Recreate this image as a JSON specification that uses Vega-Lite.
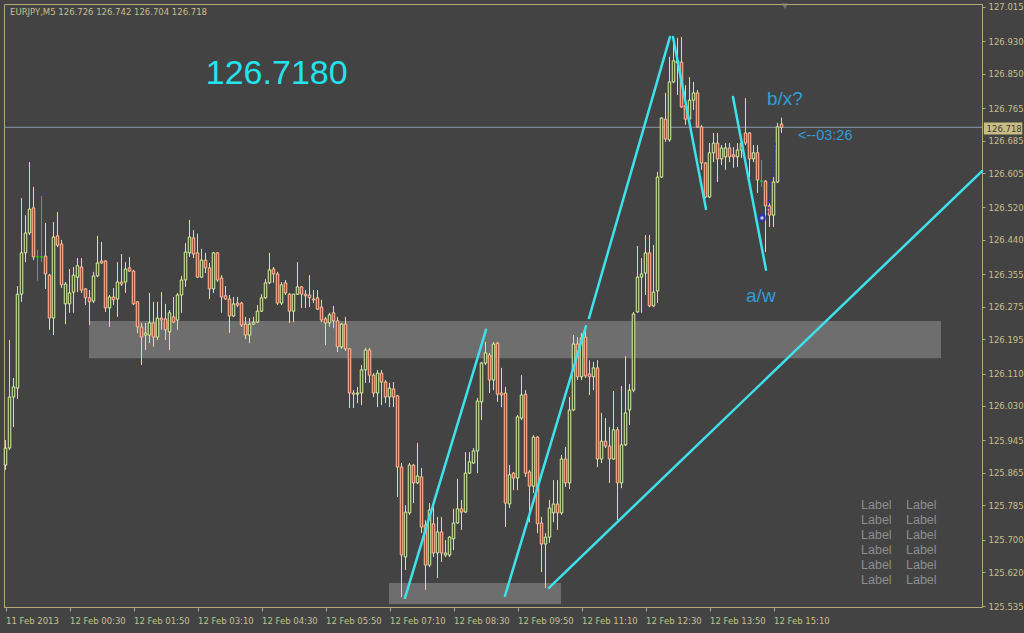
{
"$schema":"https://vega.github.io/schema/vega-lite/v6.json",
"width":978,"height":603,
"autosize":{"type":"none"},
"padding":{"left":4,"top":4,"right":42,"bottom":26},
"background":"#434343",
"view":{"fill":"#434343","stroke":"#b8a878","strokeWidth":1},
"config":{"scale":{"continuousPadding":0},"axis":{"labelOverlap":false,"labelFlush":false,"labelBound":false}},
"datasets":{
"candles":[
{"t":"2013-02-11T23:10:00Z","o":125.884,"h":125.946,"l":125.872,"c":125.926},
{"t":"2013-02-11T23:15:00Z","o":125.926,"h":126.193,"l":125.921,"c":126.052},
{"t":"2013-02-11T23:20:00Z","o":126.052,"h":126.099,"l":125.978,"c":126.077},
{"t":"2013-02-11T23:25:00Z","o":126.074,"h":126.326,"l":126.047,"c":126.306},
{"t":"2013-02-11T23:30:00Z","o":126.306,"h":126.543,"l":126.287,"c":126.408},
{"t":"2013-02-11T23:35:00Z","o":126.408,"h":126.501,"l":126.385,"c":126.457},
{"t":"2013-02-11T23:40:00Z","o":126.457,"h":126.632,"l":126.452,"c":126.516},
{"t":"2013-02-11T23:45:00Z","o":126.519,"h":126.571,"l":126.390,"c":126.398},
{"t":"2013-02-11T23:50:00Z","o":126.398,"h":126.415,"l":126.339,"c":126.398},
{"t":"2013-02-11T23:55:00Z","o":126.398,"h":126.548,"l":126.385,"c":126.398},
{"t":"2013-02-12T00:00:00Z","o":126.400,"h":126.482,"l":126.319,"c":126.356},
{"t":"2013-02-12T00:05:00Z","o":126.353,"h":126.356,"l":126.218,"c":126.247},
{"t":"2013-02-12T00:10:00Z","o":126.247,"h":126.484,"l":126.205,"c":126.447},
{"t":"2013-02-12T00:15:00Z","o":126.450,"h":126.509,"l":126.422,"c":126.427},
{"t":"2013-02-12T00:20:00Z","o":126.430,"h":126.440,"l":126.321,"c":126.329},
{"t":"2013-02-12T00:25:00Z","o":126.282,"h":126.336,"l":126.232,"c":126.331},
{"t":"2013-02-12T00:30:00Z","o":126.282,"h":126.368,"l":126.260,"c":126.309},
{"t":"2013-02-12T00:35:00Z","o":126.311,"h":126.373,"l":126.260,"c":126.353},
{"t":"2013-02-12T00:40:00Z","o":126.348,"h":126.395,"l":126.311,"c":126.376},
{"t":"2013-02-12T00:45:00Z","o":126.373,"h":126.395,"l":126.309,"c":126.316},
{"t":"2013-02-12T00:50:00Z","o":126.319,"h":126.321,"l":126.279,"c":126.297},
{"t":"2013-02-12T00:55:00Z","o":126.297,"h":126.316,"l":126.230,"c":126.287},
{"t":"2013-02-12T01:00:00Z","o":126.289,"h":126.361,"l":126.284,"c":126.351},
{"t":"2013-02-12T01:05:00Z","o":126.351,"h":126.450,"l":126.348,"c":126.383},
{"t":"2013-02-12T01:10:00Z","o":126.388,"h":126.435,"l":126.381,"c":126.383},
{"t":"2013-02-12T01:15:00Z","o":126.388,"h":126.390,"l":126.262,"c":126.272},
{"t":"2013-02-12T01:20:00Z","o":126.272,"h":126.304,"l":126.225,"c":126.299},
{"t":"2013-02-12T01:25:00Z","o":126.299,"h":126.321,"l":126.279,"c":126.292},
{"t":"2013-02-12T01:30:00Z","o":126.294,"h":126.385,"l":126.250,"c":126.336},
{"t":"2013-02-12T01:35:00Z","o":126.336,"h":126.405,"l":126.326,"c":126.331},
{"t":"2013-02-12T01:40:00Z","o":126.336,"h":126.385,"l":126.309,"c":126.368},
{"t":"2013-02-12T01:45:00Z","o":126.371,"h":126.398,"l":126.361,"c":126.363},
{"t":"2013-02-12T01:50:00Z","o":126.363,"h":126.366,"l":126.279,"c":126.282},
{"t":"2013-02-12T01:55:00Z","o":126.287,"h":126.289,"l":126.210,"c":126.225},
{"t":"2013-02-12T02:00:00Z","o":126.225,"h":126.235,"l":126.131,"c":126.200},
{"t":"2013-02-12T02:05:00Z","o":126.205,"h":126.235,"l":126.168,"c":126.210},
{"t":"2013-02-12T02:10:00Z","o":126.205,"h":126.309,"l":126.185,"c":126.235},
{"t":"2013-02-12T02:15:00Z","o":126.235,"h":126.287,"l":126.176,"c":126.200},
{"t":"2013-02-12T02:20:00Z","o":126.200,"h":126.287,"l":126.193,"c":126.247},
{"t":"2013-02-12T02:25:00Z","o":126.247,"h":126.311,"l":126.218,"c":126.242},
{"t":"2013-02-12T02:30:00Z","o":126.245,"h":126.282,"l":126.193,"c":126.218},
{"t":"2013-02-12T02:35:00Z","o":126.213,"h":126.267,"l":126.168,"c":126.260},
{"t":"2013-02-12T02:40:00Z","o":126.250,"h":126.299,"l":126.235,"c":126.237},
{"t":"2013-02-12T02:45:00Z","o":126.242,"h":126.309,"l":126.218,"c":126.304},
{"t":"2013-02-12T02:50:00Z","o":126.304,"h":126.351,"l":126.260,"c":126.341},
{"t":"2013-02-12T02:55:00Z","o":126.341,"h":126.432,"l":126.324,"c":126.410},
{"t":"2013-02-12T03:00:00Z","o":126.408,"h":126.489,"l":126.398,"c":126.447},
{"t":"2013-02-12T03:05:00Z","o":126.445,"h":126.464,"l":126.395,"c":126.405},
{"t":"2013-02-12T03:10:00Z","o":126.408,"h":126.455,"l":126.346,"c":126.348},
{"t":"2013-02-12T03:15:00Z","o":126.348,"h":126.418,"l":126.346,"c":126.390},
{"t":"2013-02-12T03:20:00Z","o":126.390,"h":126.408,"l":126.358,"c":126.371},
{"t":"2013-02-12T03:25:00Z","o":126.371,"h":126.383,"l":126.294,"c":126.319},
{"t":"2013-02-12T03:30:00Z","o":126.319,"h":126.410,"l":126.309,"c":126.408},
{"t":"2013-02-12T03:35:00Z","o":126.408,"h":126.410,"l":126.336,"c":126.341},
{"t":"2013-02-12T03:40:00Z","o":126.346,"h":126.353,"l":126.260,"c":126.299},
{"t":"2013-02-12T03:45:00Z","o":126.302,"h":126.326,"l":126.292,"c":126.294},
{"t":"2013-02-12T03:50:00Z","o":126.294,"h":126.304,"l":126.210,"c":126.252},
{"t":"2013-02-12T03:55:00Z","o":126.252,"h":126.299,"l":126.250,"c":126.282},
{"t":"2013-02-12T04:00:00Z","o":126.284,"h":126.299,"l":126.274,"c":126.279},
{"t":"2013-02-12T04:05:00Z","o":126.284,"h":126.287,"l":126.225,"c":126.230},
{"t":"2013-02-12T04:10:00Z","o":126.232,"h":126.250,"l":126.195,"c":126.205},
{"t":"2013-02-12T04:15:00Z","o":126.205,"h":126.247,"l":126.185,"c":126.232},
{"t":"2013-02-12T04:20:00Z","o":126.232,"h":126.250,"l":126.230,"c":126.237},
{"t":"2013-02-12T04:25:00Z","o":126.237,"h":126.279,"l":126.235,"c":126.264},
{"t":"2013-02-12T04:30:00Z","o":126.264,"h":126.306,"l":126.262,"c":126.297},
{"t":"2013-02-12T04:35:00Z","o":126.297,"h":126.343,"l":126.294,"c":126.334},
{"t":"2013-02-12T04:40:00Z","o":126.334,"h":126.408,"l":126.331,"c":126.366},
{"t":"2013-02-12T04:45:00Z","o":126.368,"h":126.373,"l":126.334,"c":126.356},
{"t":"2013-02-12T04:50:00Z","o":126.356,"h":126.361,"l":126.279,"c":126.284},
{"t":"2013-02-12T04:55:00Z","o":126.284,"h":126.336,"l":126.279,"c":126.329},
{"t":"2013-02-12T05:00:00Z","o":126.334,"h":126.341,"l":126.304,"c":126.309},
{"t":"2013-02-12T05:05:00Z","o":126.306,"h":126.309,"l":126.235,"c":126.264},
{"t":"2013-02-12T05:10:00Z","o":126.264,"h":126.306,"l":126.237,"c":126.306},
{"t":"2013-02-12T05:15:00Z","o":126.306,"h":126.385,"l":126.304,"c":126.324},
{"t":"2013-02-12T05:20:00Z","o":126.324,"h":126.326,"l":126.272,"c":126.306},
{"t":"2013-02-12T05:25:00Z","o":126.306,"h":126.316,"l":126.272,"c":126.302},
{"t":"2013-02-12T05:30:00Z","o":126.304,"h":126.353,"l":126.274,"c":126.297},
{"t":"2013-02-12T05:35:00Z","o":126.294,"h":126.316,"l":126.284,"c":126.292},
{"t":"2013-02-12T05:40:00Z","o":126.297,"h":126.316,"l":126.267,"c":126.269},
{"t":"2013-02-12T05:45:00Z","o":126.274,"h":126.292,"l":126.237,"c":126.242},
{"t":"2013-02-12T05:50:00Z","o":126.245,"h":126.250,"l":126.180,"c":126.235},
{"t":"2013-02-12T05:55:00Z","o":126.235,"h":126.260,"l":126.225,"c":126.255},
{"t":"2013-02-12T06:00:00Z","o":126.260,"h":126.277,"l":126.222,"c":126.240},
{"t":"2013-02-12T06:05:00Z","o":126.240,"h":126.250,"l":126.163,"c":126.176},
{"t":"2013-02-12T06:10:00Z","o":126.176,"h":126.235,"l":126.171,"c":126.232},
{"t":"2013-02-12T06:15:00Z","o":126.232,"h":126.250,"l":126.166,"c":126.171},
{"t":"2013-02-12T06:20:00Z","o":126.171,"h":126.173,"l":126.025,"c":126.062},
{"t":"2013-02-12T06:25:00Z","o":126.062,"h":126.069,"l":126.025,"c":126.059},
{"t":"2013-02-12T06:30:00Z","o":126.059,"h":126.077,"l":126.037,"c":126.062},
{"t":"2013-02-12T06:35:00Z","o":126.062,"h":126.131,"l":126.032,"c":126.119},
{"t":"2013-02-12T06:40:00Z","o":126.119,"h":126.173,"l":126.087,"c":126.168},
{"t":"2013-02-12T06:45:00Z","o":126.168,"h":126.173,"l":126.087,"c":126.106},
{"t":"2013-02-12T06:50:00Z","o":126.106,"h":126.111,"l":126.052,"c":126.062},
{"t":"2013-02-12T06:55:00Z","o":126.062,"h":126.119,"l":126.027,"c":126.111},
{"t":"2013-02-12T07:00:00Z","o":126.111,"h":126.119,"l":126.032,"c":126.089},
{"t":"2013-02-12T07:05:00Z","o":126.089,"h":126.094,"l":126.037,"c":126.052},
{"t":"2013-02-12T07:10:00Z","o":126.052,"h":126.087,"l":126.027,"c":126.074},
{"t":"2013-02-12T07:15:00Z","o":126.072,"h":126.089,"l":126.027,"c":126.052},
{"t":"2013-02-12T07:20:00Z","o":126.055,"h":126.057,"l":125.805,"c":125.879},
{"t":"2013-02-12T07:25:00Z","o":125.879,"h":125.889,"l":125.558,"c":125.662},
{"t":"2013-02-12T07:30:00Z","o":125.657,"h":125.785,"l":125.625,"c":125.768},
{"t":"2013-02-12T07:35:00Z","o":125.766,"h":125.889,"l":125.761,"c":125.884},
{"t":"2013-02-12T07:40:00Z","o":125.884,"h":125.887,"l":125.790,"c":125.840},
{"t":"2013-02-12T07:45:00Z","o":125.840,"h":125.939,"l":125.837,"c":125.857},
{"t":"2013-02-12T07:50:00Z","o":125.855,"h":125.877,"l":125.716,"c":125.731},
{"t":"2013-02-12T07:55:00Z","o":125.736,"h":125.748,"l":125.576,"c":125.637},
{"t":"2013-02-12T08:00:00Z","o":125.637,"h":125.790,"l":125.632,"c":125.773},
{"t":"2013-02-12T08:05:00Z","o":125.739,"h":125.790,"l":125.657,"c":125.667},
{"t":"2013-02-12T08:10:00Z","o":125.667,"h":125.756,"l":125.605,"c":125.719},
{"t":"2013-02-12T08:15:00Z","o":125.719,"h":125.756,"l":125.645,"c":125.667},
{"t":"2013-02-12T08:20:00Z","o":125.662,"h":125.699,"l":125.657,"c":125.667},
{"t":"2013-02-12T08:25:00Z","o":125.662,"h":125.709,"l":125.657,"c":125.706},
{"t":"2013-02-12T08:30:00Z","o":125.702,"h":125.776,"l":125.674,"c":125.741},
{"t":"2013-02-12T08:35:00Z","o":125.741,"h":125.850,"l":125.739,"c":125.776},
{"t":"2013-02-12T08:40:00Z","o":125.776,"h":125.798,"l":125.724,"c":125.768},
{"t":"2013-02-12T08:45:00Z","o":125.768,"h":125.916,"l":125.766,"c":125.864},
{"t":"2013-02-12T08:50:00Z","o":125.864,"h":125.916,"l":125.862,"c":125.892},
{"t":"2013-02-12T08:55:00Z","o":125.889,"h":125.926,"l":125.887,"c":125.919},
{"t":"2013-02-12T09:00:00Z","o":125.919,"h":126.050,"l":125.864,"c":126.042},
{"t":"2013-02-12T09:05:00Z","o":126.040,"h":126.139,"l":125.995,"c":126.136},
{"t":"2013-02-12T09:10:00Z","o":126.136,"h":126.188,"l":126.131,"c":126.161},
{"t":"2013-02-12T09:15:00Z","o":126.156,"h":126.161,"l":126.062,"c":126.094},
{"t":"2013-02-12T09:20:00Z","o":126.094,"h":126.188,"l":126.069,"c":126.183},
{"t":"2013-02-12T09:25:00Z","o":126.185,"h":126.188,"l":126.040,"c":126.059},
{"t":"2013-02-12T09:30:00Z","o":126.062,"h":126.124,"l":126.027,"c":126.057},
{"t":"2013-02-12T09:35:00Z","o":126.062,"h":126.077,"l":125.731,"c":125.790},
{"t":"2013-02-12T09:40:00Z","o":125.788,"h":125.884,"l":125.778,"c":125.860},
{"t":"2013-02-12T09:45:00Z","o":125.864,"h":125.867,"l":125.822,"c":125.852},
{"t":"2013-02-12T09:50:00Z","o":125.852,"h":126.008,"l":125.822,"c":126.003},
{"t":"2013-02-12T09:55:00Z","o":126.000,"h":126.106,"l":125.995,"c":126.057},
{"t":"2013-02-12T10:00:00Z","o":126.059,"h":126.069,"l":125.855,"c":125.864},
{"t":"2013-02-12T10:05:00Z","o":125.867,"h":125.872,"l":125.743,"c":125.832},
{"t":"2013-02-12T10:10:00Z","o":125.832,"h":125.958,"l":125.815,"c":125.953},
{"t":"2013-02-12T10:15:00Z","o":125.953,"h":125.956,"l":125.716,"c":125.739},
{"t":"2013-02-12T10:20:00Z","o":125.741,"h":125.756,"l":125.620,"c":125.689},
{"t":"2013-02-12T10:25:00Z","o":125.689,"h":125.716,"l":125.581,"c":125.706},
{"t":"2013-02-12T10:30:00Z","o":125.706,"h":125.798,"l":125.692,"c":125.778},
{"t":"2013-02-12T10:35:00Z","o":125.766,"h":125.847,"l":125.743,"c":125.788},
{"t":"2013-02-12T10:40:00Z","o":125.788,"h":125.847,"l":125.724,"c":125.766},
{"t":"2013-02-12T10:45:00Z","o":125.766,"h":125.909,"l":125.761,"c":125.899},
{"t":"2013-02-12T10:50:00Z","o":125.899,"h":125.929,"l":125.830,"c":125.840},
{"t":"2013-02-12T10:55:00Z","o":125.840,"h":126.052,"l":125.825,"c":126.020},
{"t":"2013-02-12T11:00:00Z","o":126.020,"h":126.205,"l":126.017,"c":126.183},
{"t":"2013-02-12T11:05:00Z","o":126.183,"h":126.200,"l":126.094,"c":126.102},
{"t":"2013-02-12T11:10:00Z","o":126.102,"h":126.210,"l":126.094,"c":126.198},
{"t":"2013-02-12T11:15:00Z","o":126.200,"h":126.230,"l":126.099,"c":126.104},
{"t":"2013-02-12T11:20:00Z","o":126.109,"h":126.143,"l":126.057,"c":126.102},
{"t":"2013-02-12T11:25:00Z","o":126.102,"h":126.139,"l":126.069,"c":126.124},
{"t":"2013-02-12T11:30:00Z","o":126.124,"h":126.143,"l":125.879,"c":125.899},
{"t":"2013-02-12T11:35:00Z","o":125.899,"h":126.013,"l":125.889,"c":125.943},
{"t":"2013-02-12T11:40:00Z","o":125.943,"h":126.000,"l":125.926,"c":125.931},
{"t":"2013-02-12T11:45:00Z","o":125.931,"h":125.978,"l":125.840,"c":125.899},
{"t":"2013-02-12T11:50:00Z","o":125.899,"h":126.067,"l":125.897,"c":125.971},
{"t":"2013-02-12T11:55:00Z","o":125.971,"h":125.978,"l":125.748,"c":125.840},
{"t":"2013-02-12T12:00:00Z","o":125.840,"h":126.079,"l":125.827,"c":125.934},
{"t":"2013-02-12T12:05:00Z","o":125.934,"h":126.153,"l":125.931,"c":126.013},
{"t":"2013-02-12T12:10:00Z","o":126.020,"h":126.084,"l":125.983,"c":126.069},
{"t":"2013-02-12T12:15:00Z","o":126.069,"h":126.262,"l":126.064,"c":126.257},
{"t":"2013-02-12T12:20:00Z","o":126.262,"h":126.425,"l":126.260,"c":126.348},
{"t":"2013-02-12T12:25:00Z","o":126.348,"h":126.395,"l":126.260,"c":126.356},
{"t":"2013-02-12T12:30:00Z","o":126.358,"h":126.452,"l":126.304,"c":126.408},
{"t":"2013-02-12T12:35:00Z","o":126.408,"h":126.452,"l":126.274,"c":126.277},
{"t":"2013-02-12T12:40:00Z","o":126.277,"h":126.427,"l":126.274,"c":126.311},
{"t":"2013-02-12T12:45:00Z","o":126.314,"h":126.608,"l":126.284,"c":126.595},
{"t":"2013-02-12T12:50:00Z","o":126.595,"h":126.743,"l":126.593,"c":126.741},
{"t":"2013-02-12T12:55:00Z","o":126.738,"h":126.803,"l":126.682,"c":126.689},
{"t":"2013-02-12T13:00:00Z","o":126.687,"h":126.892,"l":126.682,"c":126.830},
{"t":"2013-02-12T13:05:00Z","o":126.830,"h":126.926,"l":126.827,"c":126.882},
{"t":"2013-02-12T13:10:00Z","o":126.877,"h":126.939,"l":126.798,"c":126.882},
{"t":"2013-02-12T13:15:00Z","o":126.879,"h":126.941,"l":126.766,"c":126.768},
{"t":"2013-02-12T13:20:00Z","o":126.771,"h":126.822,"l":126.724,"c":126.738},
{"t":"2013-02-12T13:25:00Z","o":126.738,"h":126.842,"l":126.729,"c":126.785},
{"t":"2013-02-12T13:30:00Z","o":126.785,"h":126.830,"l":126.761,"c":126.803},
{"t":"2013-02-12T13:35:00Z","o":126.803,"h":126.810,"l":126.716,"c":126.719},
{"t":"2013-02-12T13:40:00Z","o":126.719,"h":126.724,"l":126.613,"c":126.630},
{"t":"2013-02-12T13:45:00Z","o":126.630,"h":126.632,"l":126.543,"c":126.546},
{"t":"2013-02-12T13:50:00Z","o":126.546,"h":126.679,"l":126.543,"c":126.655},
{"t":"2013-02-12T13:55:00Z","o":126.655,"h":126.704,"l":126.632,"c":126.679},
{"t":"2013-02-12T14:00:00Z","o":126.679,"h":126.704,"l":126.583,"c":126.640},
{"t":"2013-02-12T14:05:00Z","o":126.640,"h":126.674,"l":126.625,"c":126.667},
{"t":"2013-02-12T14:10:00Z","o":126.645,"h":126.679,"l":126.613,"c":126.667},
{"t":"2013-02-12T14:15:00Z","o":126.667,"h":126.679,"l":126.632,"c":126.645},
{"t":"2013-02-12T14:20:00Z","o":126.650,"h":126.669,"l":126.618,"c":126.645},
{"t":"2013-02-12T14:25:00Z","o":126.645,"h":126.679,"l":126.620,"c":126.662},
{"t":"2013-02-12T14:30:00Z","o":126.662,"h":126.692,"l":126.642,"c":126.679},
{"t":"2013-02-12T14:35:00Z","o":126.704,"h":126.790,"l":126.674,"c":126.679},
{"t":"2013-02-12T14:40:00Z","o":126.704,"h":126.706,"l":126.595,"c":126.640},
{"t":"2013-02-12T14:45:00Z","o":126.640,"h":126.674,"l":126.632,"c":126.655},
{"t":"2013-02-12T14:50:00Z","o":126.655,"h":126.674,"l":126.556,"c":126.588},
{"t":"2013-02-12T14:55:00Z","o":126.585,"h":126.637,"l":126.571,"c":126.585},
{"t":"2013-02-12T15:00:00Z","o":126.585,"h":126.588,"l":126.410,"c":126.524},
{"t":"2013-02-12T15:05:00Z","o":126.524,"h":126.531,"l":126.472,"c":126.501},
{"t":"2013-02-12T15:10:00Z","o":126.501,"h":126.595,"l":126.472,"c":126.583},
{"t":"2013-02-12T15:15:00Z","o":126.583,"h":126.729,"l":126.580,"c":126.719},
{"t":"2013-02-12T15:20:00Z","o":126.726,"h":126.742,"l":126.704,"c":126.718}
],
"zones":[
{"t1":"2013-02-12T00:54:22Z","t2":"2013-02-12T18:39:22Z","p1":126.148,"p2":126.240},
{"t1":"2013-02-12T07:09:22Z","t2":"2013-02-12T10:44:22Z","p1":125.541,"p2":125.593}
],
"trend":[
{"t1":"2013-02-12T07:29:22Z","p1":125.556,"t2":"2013-02-12T09:10:38Z","p2":126.218},
{"t1":"2013-02-12T09:34:22Z","p1":125.561,"t2":"2013-02-12T11:15:38Z","p2":126.227},
{"t1":"2013-02-12T10:29:22Z","p1":125.581,"t2":"2013-02-12T19:30:38Z","p2":126.610},
{"t1":"2013-02-12T11:19:22Z","p1":126.247,"t2":"2013-02-12T13:00:38Z","p2":126.941},
{"t1":"2013-02-12T13:04:22Z","p1":126.941,"t2":"2013-02-12T13:45:38Z","p2":126.516},
{"t1":"2013-02-12T14:19:22Z","p1":126.793,"t2":"2013-02-12T15:00:38Z","p2":126.366}
]
},
"layer":[
{"data":{"name":"zones"},"mark":{"type":"rect","color":"#6e6e6e"},
 "encoding":{"x":{"field":"t1","type":"temporal","title":null},"x2":{"field":"t2"},"y":{"field":"p1","type":"quantitative","title":null},"y2":{"field":"p2"}}},
{"data":{"values":[{"p":126.718}]},"mark":{"type":"rule","color":"#8a98ae","strokeWidth":1},
 "encoding":{"y":{"field":"p","type":"quantitative","title":null}}},
{"data":{"name":"candles"},"mark":{"type":"rule","strokeWidth":1},
 "encoding":{
  "x":{"field":"t","type":"temporal","title":null,
   "scale":{"type":"utc","padding":0,"domain":[{"year":2013,"month":2,"date":11,"hours":23,"minutes":8,"seconds":7,"milliseconds":500,"utc":true},{"year":2013,"month":2,"date":12,"hours":19,"minutes":30,"seconds":37,"milliseconds":500,"utc":true}]},
   "axis":{"orient":"bottom","grid":false,"tickCount":40,
    "values":[{"year":2013,"month":2,"date":11,"hours":23,"minutes":10,"utc":true},{"year":2013,"month":2,"date":12,"hours":0,"minutes":30,"utc":true},{"year":2013,"month":2,"date":12,"hours":1,"minutes":50,"utc":true},{"year":2013,"month":2,"date":12,"hours":3,"minutes":10,"utc":true},{"year":2013,"month":2,"date":12,"hours":4,"minutes":30,"utc":true},{"year":2013,"month":2,"date":12,"hours":5,"minutes":50,"utc":true},{"year":2013,"month":2,"date":12,"hours":7,"minutes":10,"utc":true},{"year":2013,"month":2,"date":12,"hours":8,"minutes":30,"utc":true},{"year":2013,"month":2,"date":12,"hours":9,"minutes":50,"utc":true},{"year":2013,"month":2,"date":12,"hours":11,"minutes":10,"utc":true},{"year":2013,"month":2,"date":12,"hours":12,"minutes":30,"utc":true},{"year":2013,"month":2,"date":12,"hours":13,"minutes":50,"utc":true},{"year":2013,"month":2,"date":12,"hours":15,"minutes":10,"utc":true}],
    "labelExpr":"utcFormat(datum.value, '%H:%M') == '23:10' ? '11 Feb 2013' : utcFormat(datum.value, '%d %b %H:%M')",
    "labelAlign":"left","labelBaseline":"top","labelPadding":5,"labelFlush":false,"labelOverlap":false,"labelBound":false,
    "labelColor":"#c9bf8e","labelFont":"DejaVu Sans","labelFontSize":8.5,
    "tickColor":"#b8a878","tickSize":4,"domainColor":"#b8a878"}},
  "y":{"field":"l","type":"quantitative","title":null,
   "scale":{"domain":[125.5336,127.0224],"nice":false,"zero":false,"padding":0},
   "axis":{"orient":"right","grid":false,"format":".3f","tickCount":60,
    "values":[125.535,125.62,125.7,125.785,125.865,125.945,126.03,126.11,126.195,126.275,126.355,126.44,126.52,126.605,126.685,126.765,126.85,126.93,127.015],
    "labelColor":"#c9bf8e","labelFont":"DejaVu Sans","labelFontSize":8.5,"labelPadding":3,"labelFlush":false,"labelOverlap":false,"labelBound":false,
    "tickColor":"#b8a878","tickSize":3,"domainColor":"#b8a878"}},
  "y2":{"field":"h"},
  "color":{"condition":{"test":"datum.o == datum.c","value":"#1ed01e"},"value":"#f2d3a6"}}},
{"data":{"name":"candles"},"mark":{"type":"bar","size":2.5,"strokeWidth":1},
 "encoding":{
  "x":{"field":"t","type":"temporal","title":null},
  "y":{"field":"o","type":"quantitative","title":null},
  "y2":{"field":"c"},
  "fill":{"condition":{"test":"datum.c < datum.o","value":"#f0241a"},"value":"#434343"},
  "stroke":{"condition":[{"test":"datum.o == datum.c","value":"#1ed01e"},{"test":"datum.c < datum.o","value":"#f6c6a4"}],"value":"#d9f4a4"}}},
{"data":{"name":"trend"},"mark":{"type":"rule","color":"#3ee2ec","strokeWidth":2.5,"strokeCap":"round"},
 "encoding":{"x":{"field":"t1","type":"temporal","title":null},"x2":{"field":"t2"},"y":{"field":"p1","type":"quantitative","title":null},"y2":{"field":"p2"}}},
{"data":{"values":[{"t1":"2013-02-12T15:01:52Z","p1":126.497,"t2":"2013-02-12T15:11:52Z","p2":126.679}]},
 "mark":{"type":"rule","color":"#2430c8","strokeWidth":1.5,"strokeDash":[2,2]},
 "encoding":{"x":{"field":"t1","type":"temporal","title":null},"x2":{"field":"t2"},"y":{"field":"p1","type":"quantitative","title":null},"y2":{"field":"p2"}}},
{"data":{"values":[{"t":"2013-02-12T14:55:38Z","p":126.494}]},
 "mark":{"type":"point","shape":"circle","size":36,"filled":true,"fill":"#ffffff","stroke":"#2430d8","strokeWidth":2.5},
 "encoding":{"x":{"field":"t","type":"temporal","title":null},"y":{"field":"p","type":"quantitative","title":null}}},
{"data":{"values":[{"t":"2013-02-12T15:24:22Z","p":127.017}]},
 "mark":{"type":"point","shape":"triangle-down","size":40,"filled":true,"color":"#8c8c8c"},
 "encoding":{"x":{"field":"t","type":"temporal","title":null},"y":{"field":"p","type":"quantitative","title":null}}},
{"data":{"values":[{"t":"2013-02-12T04:49:00Z","p":126.850,"label":"126.7180"}]},
 "mark":{"type":"text","font":"Liberation Sans","fontSize":34,"color":"#22e4ee","align":"center","baseline":"middle"},
 "encoding":{"x":{"field":"t","type":"temporal","title":null},"y":{"field":"p","type":"quantitative","title":null},"text":{"field":"label"}}},
{"data":{"values":[{"t":"2013-02-12T15:01:52Z","p":126.788,"label":"b/x?"},{"t":"2013-02-12T14:35:40Z","p":126.301,"label":"a/w"}]},
 "mark":{"type":"text","font":"Liberation Sans","fontSize":19,"color":"#2e9ed8","align":"left","baseline":"middle"},
 "encoding":{"x":{"field":"t","type":"temporal","title":null},"y":{"field":"p","type":"quantitative","title":null},"text":{"field":"label"}}},
{"data":{"values":[{"t":"2013-02-12T15:40:40Z","p":126.696,"label":"<--03:26"}]},
 "mark":{"type":"text","font":"Liberation Sans","fontSize":14.5,"color":"#2e9ed8","align":"left","baseline":"middle"},
 "encoding":{"x":{"field":"t","type":"temporal","title":null},"y":{"field":"p","type":"quantitative","title":null},"text":{"field":"label"}}},
{"data":{"values":[{"t":"2013-02-11T23:15:40Z","p":127.003,"label":"EURJPY,M5  126.726 126.742 126.704 126.718"}]},
 "mark":{"type":"text","font":"DejaVu Sans","fontSize":8.5,"color":"#c9bf8e","align":"left","baseline":"middle"},
 "encoding":{"x":{"field":"t","type":"temporal","title":null},"y":{"field":"p","type":"quantitative","title":null},"text":{"field":"label"}}},
{"data":{"values":[
 {"t":"2013-02-12T16:59:24Z","p":125.786,"label":"Label"},{"t":"2013-02-12T17:55:38Z","p":125.786,"label":"Label"},
 {"t":"2013-02-12T16:59:24Z","p":125.749,"label":"Label"},{"t":"2013-02-12T17:55:38Z","p":125.749,"label":"Label"},
 {"t":"2013-02-12T16:59:24Z","p":125.712,"label":"Label"},{"t":"2013-02-12T17:55:38Z","p":125.712,"label":"Label"},
 {"t":"2013-02-12T16:59:24Z","p":125.674,"label":"Label"},{"t":"2013-02-12T17:55:38Z","p":125.674,"label":"Label"},
 {"t":"2013-02-12T16:59:24Z","p":125.637,"label":"Label"},{"t":"2013-02-12T17:55:38Z","p":125.637,"label":"Label"},
 {"t":"2013-02-12T16:59:24Z","p":125.600,"label":"Label"},{"t":"2013-02-12T17:55:38Z","p":125.600,"label":"Label"}]},
 "mark":{"type":"text","font":"Liberation Sans","fontSize":12.5,"color":"#8e8e8e","align":"left","baseline":"middle"},
 "encoding":{"x":{"field":"t","type":"temporal","title":null},"y":{"field":"p","type":"quantitative","title":null},"text":{"field":"label"}}},
{"data":{"values":[{"t1":"2013-02-12T19:33:00Z","t2":"2013-02-12T20:21:00Z","p1":126.700,"p2":126.730}]},
 "mark":{"type":"rect","color":"#c8bd82"},
 "encoding":{"x":{"field":"t1","type":"temporal","title":null},"x2":{"field":"t2"},"y":{"field":"p1","type":"quantitative","title":null},"y2":{"field":"p2"}}},
{"data":{"values":[{"t":"2013-02-12T19:36:20Z","p":126.715,"label":"126.718"}]},
 "mark":{"type":"text","font":"DejaVu Sans","fontSize":8.5,"color":"#3a3a3a","align":"left","baseline":"middle"},
 "encoding":{"x":{"field":"t","type":"temporal","title":null},"y":{"field":"p","type":"quantitative","title":null},"text":{"field":"label"}}}
]
}
